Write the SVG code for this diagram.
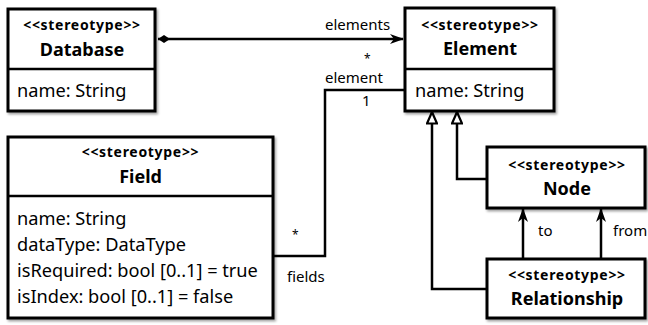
<svg xmlns="http://www.w3.org/2000/svg" width="648" height="325" viewBox="0 0 648 325">
  <style>
    .box { fill: #fff; stroke: #000; stroke-width: 3; }
    .div { stroke: #000; stroke-width: 2.5; fill: none; }
    .line { stroke: #000; stroke-width: 2.5; fill: none; }
    .stereo { font-family: "Noto Sans", "Open Sans", sans-serif; font-weight: bold; font-size: 14px; letter-spacing: 0.7px; text-anchor: middle; fill: #000; }
    .name { font-family: "Noto Sans", "Open Sans", sans-serif; font-weight: bold; font-size: 18px; text-anchor: middle; fill: #000; }
    .attr { font-family: "Noto Sans", "Open Sans", sans-serif; font-size: 18.2px; fill: #000; }
    .lbl { font-family: "Noto Sans", "Open Sans", sans-serif; font-size: 15px; fill: #000; }
    .mult { font-family: "Noto Sans", "Open Sans", sans-serif; font-size: 12px; fill: #000; }
  </style>
  <defs>
    <filter id="shadow" x="-5%" y="-5%" width="115%" height="120%">
      <feDropShadow dx="1.5" dy="2" stdDeviation="1.2" flood-color="#000" flood-opacity="0.35"/>
    </filter>
    <marker id="diamond" viewBox="0 0 12 8" refX="0" refY="4" markerWidth="12" markerHeight="8" markerUnits="userSpaceOnUse" orient="auto">
      <path d="M0,4 L6,0 L12,4 L6,8 Z" fill="#000"/>
    </marker>
    <marker id="barb" viewBox="0 0 14 10" refX="13" refY="5" markerWidth="14" markerHeight="10" markerUnits="userSpaceOnUse" orient="auto">
      <path d="M0,0 L14,5 L0,10 L4,5 Z" fill="#000"/>
    </marker>
    <marker id="tri" viewBox="0 0 14 12" refX="13" refY="6" markerWidth="14" markerHeight="12" markerUnits="userSpaceOnUse" orient="auto">
      <path d="M1.5,1 L13,6 L1.5,11 Z" fill="#fff" stroke="#000" stroke-width="2.2"/>
    </marker>
  </defs>

  <!-- connectors -->
  <g id="connectors">
    <!-- Database composes Element -->
    <path class="line" d="M158,39 L403,39" marker-start="url(#diamond)" marker-end="url(#barb)"/>
    <text class="lbl" x="325" y="30">elements</text>
    <text class="mult" x="364" y="63">*</text>
    <text class="lbl" x="325" y="83">element</text>
    <text class="lbl" x="362" y="106">1</text>
    <!-- Field to Element -->
    <path class="line" d="M404,90 L325,90 L325,256 L273,256"/>
    <text class="mult" x="292" y="239">*</text>
    <text class="lbl" x="287" y="282">fields</text>
    <!-- Relationship generalizes Element -->
    <path class="line" d="M487,289 L432,289 L432,112" marker-end="url(#tri)"/>
    <!-- Node generalizes Element -->
    <path class="line" d="M487,179 L457,179 L457,112" marker-end="url(#tri)"/>
    <!-- Relationship to / from Node -->
    <path class="line" d="M523,259 L523,209" marker-end="url(#barb)"/>
    <text class="lbl" x="538" y="236">to</text>
    <path class="line" d="M601,259 L601,209" marker-end="url(#barb)"/>
    <text class="lbl" x="613" y="236">from</text>
  </g>

  <g id="database">
    <rect class="box" x="8" y="9" width="147" height="102" filter="url(#shadow)"/>
    <line class="div" x1="8" y1="69" x2="155" y2="69"/>
    <text class="stereo" x="82" y="30">&lt;&lt;stereotype&gt;&gt;</text>
    <text class="name" x="82" y="56">Database</text>
    <text class="attr" x="17" y="97">name: String</text>
  </g>

  <g id="element">
    <rect class="box" x="405" y="8" width="149" height="103" filter="url(#shadow)"/>
    <line class="div" x1="405" y1="69" x2="554" y2="69"/>
    <text class="stereo" x="480" y="30">&lt;&lt;stereotype&gt;&gt;</text>
    <text class="name" x="480" y="55">Element</text>
    <text class="attr" x="415" y="97">name: String</text>
  </g>

  <g id="field">
    <rect class="box" x="8" y="137" width="265" height="181" filter="url(#shadow)"/>
    <line class="div" x1="8" y1="196" x2="273" y2="196"/>
    <text class="stereo" x="140.5" y="157">&lt;&lt;stereotype&gt;&gt;</text>
    <text class="name" x="140.5" y="183">Field</text>
    <text class="attr" x="17" y="225">name: String</text>
    <text class="attr" x="17" y="251">dataType: DataType</text>
    <text class="attr" x="17" y="277">isRequired: bool [0..1] = true</text>
    <text class="attr" x="17" y="303">isIndex: bool [0..1] = false</text>
  </g>

  <g id="node">
    <rect class="box" x="487" y="147" width="158" height="61" filter="url(#shadow)"/>
    <text class="stereo" x="567" y="170">&lt;&lt;stereotype&gt;&gt;</text>
    <text class="name" x="567" y="195">Node</text>
  </g>

  <g id="relationship">
    <rect class="box" x="487" y="259" width="158" height="59" filter="url(#shadow)"/>
    <text class="stereo" x="567" y="280">&lt;&lt;stereotype&gt;&gt;</text>
    <text class="name" x="567" y="305">Relationship</text>
  </g>
</svg>
